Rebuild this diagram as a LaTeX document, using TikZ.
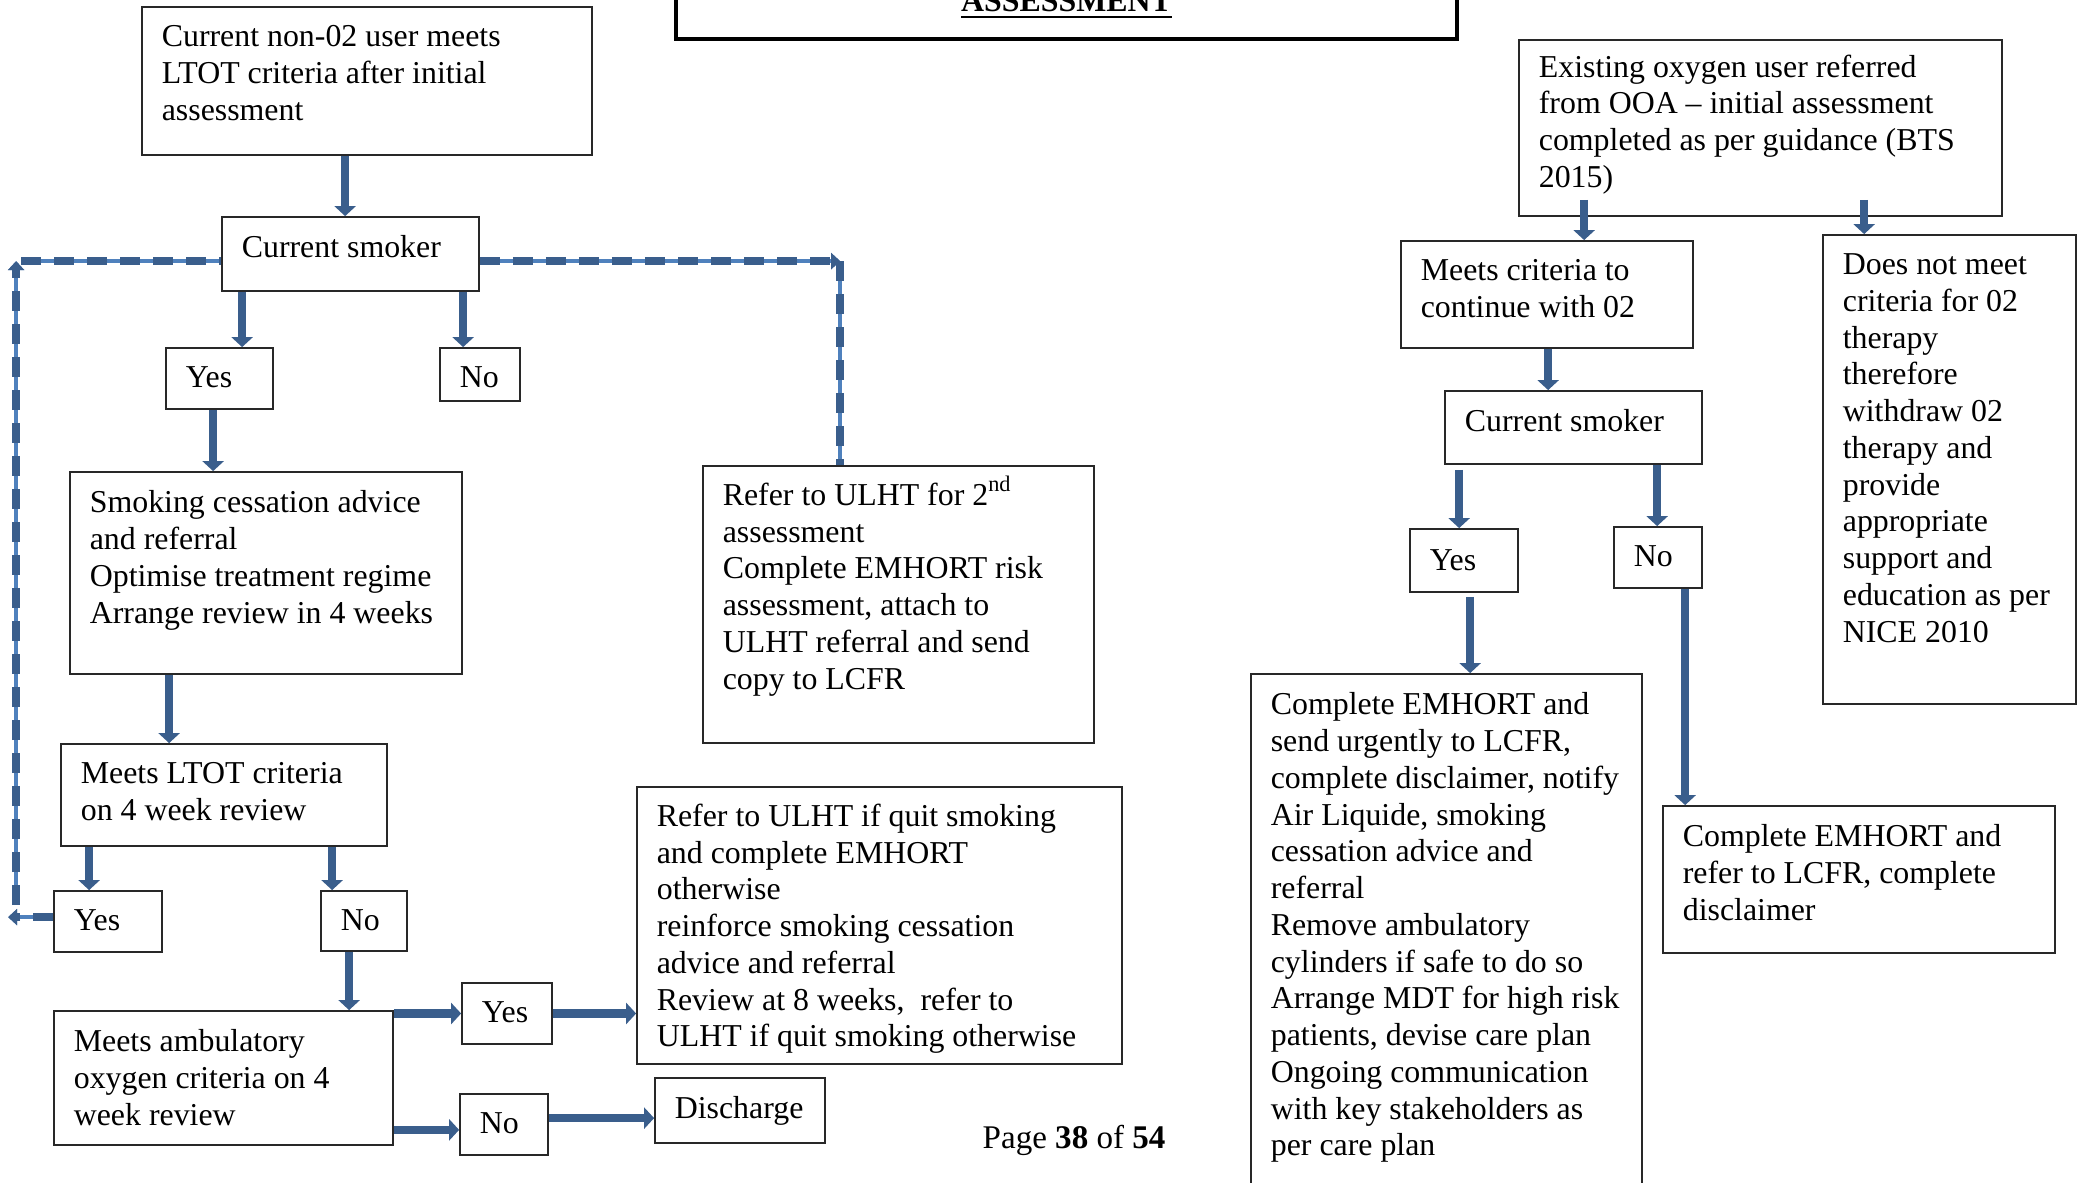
\documentclass[tikz,border=0pt]{standalone}
\usepackage{fontspec}
\setmainfont{Liberation Serif}
\usetikzlibrary{arrows.meta, positioning, fit, calc}
\definecolor{arrowblue}{RGB}{58,94,140}
\definecolor{lineblue}{RGB}{79,129,189}
\definecolor{boxgrey}{RGB}{40,40,40}
\newcommand{\boxfont}{\fontsize{9.06pt}{10.45pt}\selectfont}
\newcommand{\pagefont}{\fontsize{9.4pt}{11pt}\selectfont}

\begin{document}
\begin{tikzpicture}[
				x=0.01cm, y=-0.01cm,
				every node/.style={font=\boxfont},
				box/.style={draw=boxgrey, line width=0.5pt, inner sep=0pt},
				boxtext/.style={inner sep=0pt, anchor=north west, align=left},
				arrowstyle/.style={-{Triangle[length=1mm, width=2.1mm]}, line width=0.085cm, arrowblue},
				dashstyle/.style={arrowblue, line width=0.08cm, dash pattern=on 0.2cm off 0.13cm, preaction={draw=lineblue, line width=0.035cm, solid}},
				dashtip/.style={-{Triangle[length=0.9mm, width=1.6mm]}}
			]
			\useasboundingbox (0,0) rectangle (2080,1183);
			\clip (0,0) rectangle (2080,1183);

			% Title box (cut at the top of the page)
			\node[box, draw=black, line width=0.9pt, fit={(676,-40) (1457,39)}] (title) {};
			\node[inner sep=0pt, anchor=base, font=\boxfont\bfseries] (title-t) at ($(title.south)+(0,-29)$) {\underline{ASSESSMENT}};

			% Left branch: new user
			\node[box, fit={(142,7) (592,155)}] (start) {};
			\node[boxtext] (start-t) at ($(start.north west)+(20,19)$) {Current non-02 user meets\\LTOT criteria after initial\\assessment};
			\node[box, fit={(222,217) (479,291)}] (cs1) {};
			\node[boxtext] (cs1-t) at ($(cs1.north west)+(20,19)$) {Current smoker};
			\node[box, fit={(166,348) (273,409)}] (yes1) {};
			\node[boxtext] (yes1-t) at ($(yes1.north west)+(20,19)$) {Yes};
			\node[box, fit={(440,348) (520,401)}] (no1) {};
			\node[boxtext] (no1-t) at ($(no1.north west)+(20,19)$) {No};
			\node[box, fit={(70,472) (462,674)}] (smoke) {};
			\node[boxtext] (smoke-t) at ($(smoke.north west)+(20,19)$) {Smoking cessation advice\\and referral\\Optimise treatment regime\\Arrange review in 4 weeks};
			\node[box, fit={(703,466) (1094,743)}] (refer2) {};
			\node[boxtext] (refer2-t) at ($(refer2.north west)+(20,17)$) {Refer to ULHT for 2\smash{\textsuperscript{nd}}\\assessment\\Complete EMHORT risk\\assessment, attach to\\ULHT referral and send\\copy to LCFR};
			\node[box, fit={(61,744) (387,846)}] (ltot) {};
			\node[boxtext] (ltot-t) at ($(ltot.north west)+(20,19)$) {Meets LTOT criteria\\on 4 week review};
			\node[box, fit={(54,891) (162,952)}] (yes2) {};
			\node[boxtext] (yes2-t) at ($(yes2.north west)+(20,19)$) {Yes};
			\node[box, fit={(321,891) (407,951)}] (no2) {};
			\node[boxtext] (no2-t) at ($(no2.north west)+(20,19)$) {No};
			\node[box, fit={(54,1011) (393,1145)}] (amb) {};
			\node[boxtext] (amb-t) at ($(amb.north west)+(20,19)$) {Meets ambulatory\\oxygen criteria on 4\\week review};
			\node[box, fit={(462,983) (552,1044)}] (yes3) {};
			\node[boxtext] (yes3-t) at ($(yes3.north west)+(20,19)$) {Yes};
			\node[box, fit={(460,1094) (548,1155)}] (no3) {};
			\node[boxtext] (no3-t) at ($(no3.north west)+(20,19)$) {No};
			\node[box, fit={(637,787) (1122,1064)}] (quit) {};
			\node[boxtext] (quit-t) at ($(quit.north west)+(20,17)$) {Refer to ULHT if quit smoking\\and complete EMHORT\\otherwise\\reinforce smoking cessation\\advice and referral\\Review at 8 weeks,\ \ refer to\\ULHT if quit smoking otherwise};
			\node[box, fit={(655,1078) (825,1143)}] (disch) {};
			\node[boxtext] (disch-t) at ($(disch.north west)+(20,19)$) {Discharge};

			% Right branch: existing user
			\node[box, fit={(1519,40) (2002,216)}] (exist) {};
			\node[boxtext] (exist-t) at ($(exist.north west)+(20,15)$) {Existing oxygen user referred\\from OOA -- initial assessment\\completed as per guidance (BTS\\2015)};
			\node[box, fit={(1401,241) (1693,348)}] (meets) {};
			\node[boxtext] (meets-t) at ($(meets.north west)+(20,19)$) {Meets criteria to\\continue with 02};
			\node[box, fit={(1823,235) (2076,704)}] (notmeet) {};
			\node[boxtext] (notmeet-t) at ($(notmeet.north west)+(20,19)$) {Does not meet\\criteria for 02\\therapy\\therefore\\withdraw 02\\therapy and\\provide\\appropriate\\support and\\education as per\\NICE 2010};
			\node[box, fit={(1445,391) (1702,464)}] (cs2) {};
			\node[boxtext] (cs2-t) at ($(cs2.north west)+(20,19)$) {Current smoker};
			\node[box, fit={(1410,529) (1518,592)}] (yes4) {};
			\node[boxtext] (yes4-t) at ($(yes4.north west)+(20,21)$) {Yes};
			\node[box, fit={(1614,527) (1702,588)}] (no4) {};
			\node[boxtext] (no4-t) at ($(no4.north west)+(20,19)$) {No};
			\node[box, fit={(1251,674) (1642,1230)}] (urgent) {};
			\node[boxtext] (urgent-t) at ($(urgent.north west)+(20,19)$) {Complete EMHORT and\\send urgently to LCFR,\\complete disclaimer, notify\\Air Liquide, smoking\\cessation advice and\\referral\\Remove ambulatory\\cylinders if safe to do so\\Arrange MDT for high risk\\patients, devise care plan\\Ongoing communication\\with key stakeholders as\\per care plan};
			\node[box, fit={(1663,806) (2055,953)}] (refer3) {};
			\node[boxtext] (refer3-t) at ($(refer3.north west)+(20,19)$) {Complete EMHORT and\\refer to LCFR, complete\\disclaimer};

			% Page footer
			\node[inner sep=0pt, anchor=base west, font=\pagefont] (page) at (982,1148) {Page \textbf{38} of \textbf{54}};

			% Arrows, left branch
			\draw[arrowstyle] ($(start.south west)+(204,0)$) -- ($(cs1.north west)+(124,0)$);
			\draw[arrowstyle] ($(cs1.south west)+(21,0)$) -- ($(yes1.north west)+(77,0)$);
			\draw[arrowstyle] ($(cs1.south west)+(242,0)$) -- ($(no1.north west)+(24,0)$);
			\draw[arrowstyle] ($(yes1.south west)+(48,0)$) -- ($(smoke.north west)+(144,0)$);
			\draw[arrowstyle] ($(smoke.south west)+(100,0)$) -- ($(ltot.north west)+(109,0)$);
			\draw[arrowstyle] ($(ltot.south west)+(29,0)$) -- ($(yes2.north west)+(36,0)$);
			\draw[arrowstyle] ($(ltot.south west)+(272,0)$) -- ($(no2.north west)+(12,0)$);
			\draw[arrowstyle] ($(no2.south west)+(29,0)$) -- ($(amb.north west)+(296,0)$);
			\draw[arrowstyle] (yes3.west -| amb.east) -- (yes3.west);
			\draw[arrowstyle] (yes3.east) -- (yes3.east -| quit.west);
			\draw[arrowstyle] ($(amb.south east)+(0,-16)$) -- ($(no3.south west)+(0,-26)$);
			\draw[arrowstyle] ($(no3.north east)+(0,25)$) -- ($(disch.north west)+(0,41)$);

			% Dashed loops round Current smoker
			\coordinate (cs1r) at ($(cs1.north east)+(0,45)$);
			\coordinate (rdown) at ($(refer2.north west)+(138,0)$);
			\draw[dashstyle, dashtip] (cs1r) -- (cs1r -| rdown);
			\draw[dashstyle] (cs1r -| rdown) -- (rdown);

			\coordinate (yes2l) at ($(yes2.north west)+(0,27)$);
			\coordinate (lout) at ($(yes2l)+(-45,0)$);
			\coordinate (ltop) at ($(cs1.north west)+(-205,45)$);
			\draw[dashstyle, dashtip] (yes2l) -- (lout);
			\draw[dashstyle, dashtip] ($(ltop |- yes2l)+(0,-12)$) -- (ltop);
			\draw[dashstyle] ($(ltop)+(5,0)$) -- (cs1.west |- ltop);

			% Arrows, right branch
			\draw[arrowstyle] ($(exist.south west)+(66,-17)$) -- ($(meets.north west)+(184,0)$);
			\draw[arrowstyle] ($(exist.south west)+(346,-17)$) -- ($(notmeet.north west)+(42,0)$);
			\draw[arrowstyle] ($(meets.south west)+(148,0)$) -- ($(cs2.north west)+(104,0)$);
			\draw[arrowstyle] ($(cs2.south west)+(15,5)$) -- ($(yes4.north west)+(50,0)$);
			\draw[arrowstyle] ($(cs2.south west)+(213,0)$) -- ($(no4.north west)+(44,0)$);
			\draw[arrowstyle] ($(yes4.south west)+(61,4)$) -- ($(urgent.north west)+(220,0)$);
			\draw[arrowstyle] ($(no4.south west)+(72,0)$) -- ($(refer3.north west)+(23,0)$);

		\end{tikzpicture}
\end{document}
